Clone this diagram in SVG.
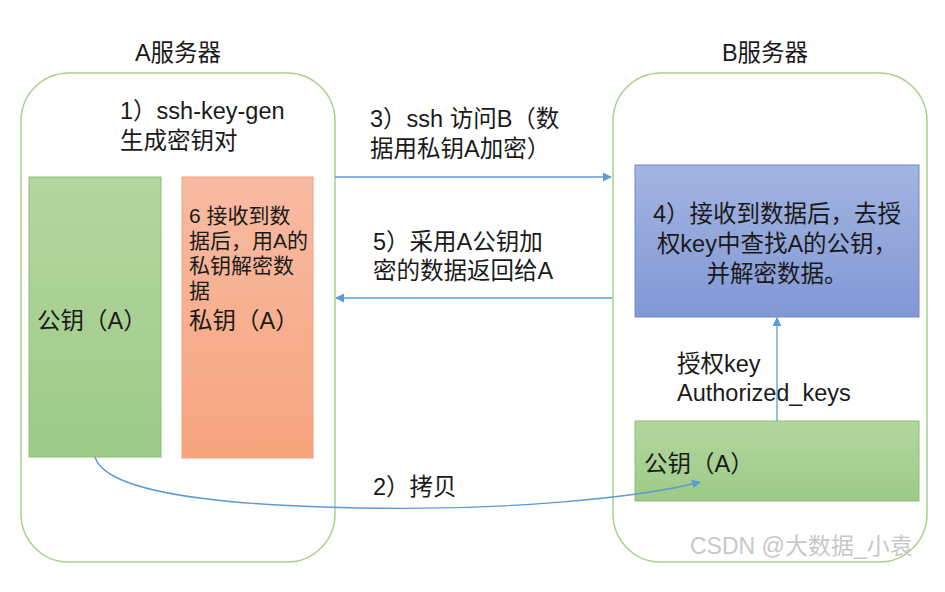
<svg xmlns="http://www.w3.org/2000/svg" width="945" height="592" viewBox="0 0 945 592">
<defs>
<linearGradient id="gGreen" x1="0" y1="0" x2="0" y2="1"><stop offset="0" stop-color="#b3d6a0"/><stop offset="1" stop-color="#9dcb86"/></linearGradient>
<linearGradient id="gOrange" x1="0" y1="0" x2="0" y2="1"><stop offset="0" stop-color="#f8bba3"/><stop offset="1" stop-color="#f6a47d"/></linearGradient>
<linearGradient id="gBlue" x1="0" y1="0" x2="0" y2="1"><stop offset="0" stop-color="#a3b4e0"/><stop offset="1" stop-color="#8298d6"/></linearGradient>
<marker id="arr" viewBox="0 0 10 10" refX="9" refY="5" markerWidth="9" markerHeight="9" markerUnits="userSpaceOnUse" orient="auto"><path d="M0,0 L10,5 L0,10 z" fill="#5b9bd5"/></marker>
</defs>
<style>
text{font-family:"Liberation Sans","Noto Sans CJK SC",sans-serif;fill:#1a1a1a;}
.t{font-size:23.5px;}
.s{font-size:21px;}
.server{fill:#fff;stroke:#a9d18e;stroke-width:1.5;}
.conn{fill:none;stroke:#5b9bd5;stroke-width:1.3;marker-end:url(#arr);}
</style>
<rect width="945" height="592" fill="#fff"/>
<g id="serverA">
<rect class="server" x="21" y="73" width="314" height="489" rx="48"/>
<text class="t" x="178" y="61" text-anchor="middle">A服务器</text>
<text class="t" x="120" y="119">1）ssh-key-gen</text>
<text class="t" x="120" y="149">生成密钥对</text>
</g>
<g id="serverB">
<rect class="server" x="613" y="73" width="314" height="489" rx="48"/>
<text class="t" x="765" y="61" text-anchor="middle">B服务器</text>
<text class="t" x="677" y="372">授权key</text>
<text class="t" x="677" y="401">Authorized_keys</text>
</g>
<g id="pubA">
<rect x="29" y="177" width="132" height="280" fill="url(#gGreen)" stroke="#8cbf72" stroke-width="1"/>
<text class="t" x="37" y="329">公钥（A）</text>
</g>
<g id="privA">
<rect x="182" y="177" width="131" height="281" fill="url(#gOrange)" stroke="#f4a07a" stroke-width="1"/>
<text class="s" x="189" y="223">6 接收到数</text>
<text class="s" x="189" y="248">据后，用A的</text>
<text class="s" x="189" y="273">私钥解密数</text>
<text class="s" x="189" y="298">据</text>
<text class="t" x="189" y="329">私钥（A）</text>
</g>
<g id="decryptB">
<rect x="635" y="165" width="284" height="152" fill="url(#gBlue)" stroke="#6f89cf" stroke-width="1"/>
<text class="t" x="777" y="222" text-anchor="middle">4）接收到数据后，去授</text>
<text class="t" x="777" y="252" text-anchor="middle">权key中查找A的公钥，</text>
<text class="t" x="777" y="282" text-anchor="middle">并解密数据。</text>
</g>
<g id="pubB">
<rect x="635" y="421" width="284" height="80" fill="url(#gGreen)" stroke="#8cbf72" stroke-width="1"/>
<text class="t" x="644" y="472">公钥（A）</text>
</g>
<g id="connectors">
<path class="conn" d="M335,177 L611,177"/>
<path class="conn" d="M612,298 L336,298"/>
<path class="conn" d="M777,421 L777,318"/>
<path class="conn" d="M95,457 C105,490 200,505 360,508 C500,511 640,498 700,482"/>
<text class="t" x="370" y="127">3）ssh 访问B（数</text>
<text class="t" x="370" y="157">据用私钥A加密）</text>
<text class="t" x="373" y="250">5）采用A公钥加</text>
<text class="t" x="373" y="279">密的数据返回给A</text>
<text class="t" x="373" y="495">2）拷贝</text>
</g>
<text x="690" y="554" style="font-size:23px;fill:#c8c8c8">CSDN @大数据_小袁</text>
</svg>
